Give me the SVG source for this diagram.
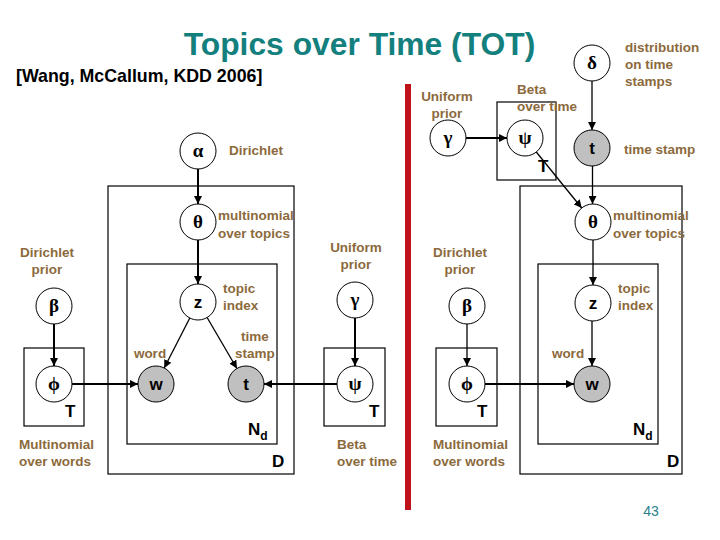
<svg xmlns="http://www.w3.org/2000/svg" width="720" height="540" viewBox="0 0 720 540">
<style>
.lbl{font-family:"Liberation Sans",Arial,sans-serif;font-weight:bold;font-size:13.5px;fill:#8c6a3c}
.lm{text-anchor:middle}
.node{fill:#fff;stroke:#000;stroke-width:1}
.obs{fill:#c0c0c0;stroke:#000;stroke-width:1}
.gr{font-family:"Liberation Serif","DejaVu Serif",serif;font-weight:bold;font-size:19px;text-anchor:middle;fill:#000}
.lt{font-family:"Liberation Sans",Arial,sans-serif;font-weight:bold;font-size:17px;text-anchor:middle;fill:#000}
.plate{fill:none;stroke:#000;stroke-width:1.2}
.pl{font-family:"Liberation Sans",Arial,sans-serif;font-weight:bold;font-size:17px;fill:#000}
.c{stroke:#000;fill:none}
.thick{stroke-width:2}
.thin{stroke-width:1.3}
</style>
<defs>
<marker id="ah" viewBox="0 0 8 8" refX="8" refY="4" markerWidth="8" markerHeight="8" markerUnits="userSpaceOnUse" orient="auto">
<path d="M0,0 L8,4 L0,8 z" fill="#000"/>
</marker>
</defs>
<rect width="720" height="540" fill="#fff"/>
<text x="359.5" y="55" text-anchor="middle" font-family="Liberation Sans,Arial,sans-serif" font-weight="bold" font-size="31.8" fill="#13807e">Topics over Time (TOT)</text>
<text x="16" y="82" font-family="Liberation Sans,Arial,sans-serif" font-weight="bold" font-size="17.8" fill="#000">[Wang, McCallum, KDD 2006]</text>
<text x="651" y="516" text-anchor="middle" font-family="Liberation Sans,Arial,sans-serif" font-size="14" fill="#2a7f8a">43</text>
<rect x="405" y="84" width="6" height="426" fill="#c0101a"/>

<g id="plates">
<rect class="plate" x="108" y="186" width="186" height="288"/>
<rect class="plate" x="127" y="264" width="150" height="180"/>
<rect class="plate" x="24" y="348" width="60" height="78"/>
<rect class="plate" x="324" y="348" width="61" height="78"/>
<rect class="plate" x="497" y="102" width="59" height="78"/>
<rect class="plate" x="520" y="186" width="162" height="288"/>
<rect class="plate" x="538" y="264" width="120" height="180"/>
<rect class="plate" x="436" y="348" width="61" height="78"/>
<text class="pl" x="65" y="417">T</text>
<text class="pl" x="369" y="417">T</text>
<text class="pl" x="538" y="172">T</text>
<text class="pl" x="477" y="417">T</text>
<text class="pl" x="248" y="435">N<tspan font-size="12" dy="5">d</tspan></text>
<text class="pl" x="272" y="467">D</text>
<text class="pl" x="633" y="435">N<tspan font-size="12" dy="5">d</tspan></text>
<text class="pl" x="667" y="467">D</text>
</g>

<g id="connectors">
<line class="c thick" x1="198" y1="169" x2="198" y2="204" marker-end="url(#ah)"/>
<line class="c thick" x1="198" y1="240" x2="198" y2="284" marker-end="url(#ah)"/>
<line class="c thin" x1="189.8" y1="318" x2="164.2" y2="368" marker-end="url(#ah)"/>
<line class="c thin" x1="207.1" y1="317.5" x2="236.9" y2="368.5" marker-end="url(#ah)"/>
<line class="c thick" x1="54" y1="324" x2="54" y2="366" marker-end="url(#ah)"/>
<line class="c thick" x1="72" y1="384" x2="138" y2="384" marker-end="url(#ah)"/>
<line class="c thick" x1="337" y1="384" x2="264" y2="384" marker-end="url(#ah)"/>
<line class="c thick" x1="355" y1="318" x2="355" y2="366" marker-end="url(#ah)"/>
<line class="c thin" x1="592" y1="81" x2="592" y2="130" marker-end="url(#ah)"/>
<line class="c thick" x1="466" y1="138" x2="507" y2="138" marker-end="url(#ah)"/>
<line class="c thin" x1="536.3" y1="152" x2="581.7" y2="208" marker-end="url(#ah)"/>
<line class="c thin" x1="592.5" y1="166" x2="592.5" y2="204" marker-end="url(#ah)"/>
<line class="c thin" x1="593" y1="240" x2="593" y2="285" marker-end="url(#ah)"/>
<line class="c thin" x1="592" y1="321" x2="592" y2="366" marker-end="url(#ah)"/>
<line class="c thin" x1="467" y1="324" x2="467" y2="366" marker-end="url(#ah)"/>
<line class="c thick" x1="485" y1="384" x2="574" y2="384" marker-end="url(#ah)"/>
</g>

<g id="alpha"><circle class="node" cx="198" cy="151" r="18"/><text class="gr" x="198" y="157">α</text></g>
<g id="theta-l"><circle class="node" cx="198" cy="222" r="18"/><text class="gr" x="198" y="228">θ</text></g>
<g id="z-l"><circle class="node" cx="198" cy="302" r="18"/><text class="lt" x="198" y="308">z</text></g>
<g id="beta-l"><circle class="node" cx="54" cy="306" r="18"/><text class="gr" x="54" y="312">β</text></g>
<g id="phi-l"><circle class="node" cx="54" cy="384" r="18"/><text class="gr" x="54" y="390">ϕ</text></g>
<g id="w-l"><circle class="obs" cx="156" cy="384" r="18"/><text class="lt" x="156" y="390">w</text></g>
<g id="t-l"><circle class="obs" cx="246" cy="384" r="18"/><text class="lt" x="246" y="390">t</text></g>
<g id="gamma-m"><circle class="node" cx="355" cy="300" r="18"/><text class="gr" x="355" y="306">γ</text></g>
<g id="psi-m"><circle class="node" cx="355" cy="384" r="18"/><text class="gr" x="355" y="390">ψ</text></g>
<g id="delta"><circle class="node" cx="592" cy="63" r="18"/><text class="gr" x="592" y="69">δ</text></g>
<g id="t-r"><circle class="obs" cx="592" cy="148" r="18"/><text class="lt" x="592" y="154">t</text></g>
<g id="gamma-r"><circle class="node" cx="448" cy="138" r="18"/><text class="gr" x="448" y="144">γ</text></g>
<g id="psi-r"><circle class="node" cx="525" cy="138" r="18"/><text class="gr" x="525" y="144">ψ</text></g>
<g id="theta-r"><circle class="node" cx="593" cy="222" r="18"/><text class="gr" x="593" y="228">θ</text></g>
<g id="z-r"><circle class="node" cx="593" cy="303" r="18"/><text class="lt" x="593" y="309">z</text></g>
<g id="beta-r"><circle class="node" cx="467" cy="306" r="18"/><text class="gr" x="467" y="312">β</text></g>
<g id="phi-r"><circle class="node" cx="467" cy="384" r="18"/><text class="gr" x="467" y="390">ϕ</text></g>
<g id="w-r"><circle class="obs" cx="592" cy="384" r="18"/><text class="lt" x="592" y="390">w</text></g>

<g id="labels">
<text class="lbl" x="229" y="155">Dirichlet</text>
<text class="lbl" x="218" y="220">multinomial</text>
<text class="lbl" x="218" y="238">over topics</text>
<text class="lbl" x="223" y="293">topic</text>
<text class="lbl" x="223" y="310">index</text>
<text class="lbl lm" x="47" y="257">Dirichlet</text>
<text class="lbl lm" x="47" y="274">prior</text>
<text class="lbl lm" x="150" y="358">word</text>
<text class="lbl lm" x="255" y="341">time</text>
<text class="lbl lm" x="255" y="358">stamp</text>
<text class="lbl" x="19" y="449">Multinomial</text>
<text class="lbl" x="19" y="466">over words</text>
<text class="lbl lm" x="356" y="252">Uniform</text>
<text class="lbl lm" x="356" y="269">prior</text>
<text class="lbl" x="337" y="449">Beta</text>
<text class="lbl" x="337" y="466">over time</text>
<text class="lbl" x="625" y="52">distribution</text>
<text class="lbl" x="625" y="69">on time</text>
<text class="lbl" x="625" y="86">stamps</text>
<text class="lbl" x="624" y="154">time stamp</text>
<text class="lbl lm" x="447" y="101">Uniform</text>
<text class="lbl lm" x="447" y="118">prior</text>
<text class="lbl" x="517" y="94">Beta</text>
<text class="lbl" x="517" y="111">over time</text>
<text class="lbl" x="613" y="220">multinomial</text>
<text class="lbl" x="613" y="238">over topics</text>
<text class="lbl" x="618" y="293">topic</text>
<text class="lbl" x="618" y="310">index</text>
<text class="lbl lm" x="460" y="257">Dirichlet</text>
<text class="lbl lm" x="460" y="274">prior</text>
<text class="lbl lm" x="568" y="358">word</text>
<text class="lbl" x="433" y="449">Multinomial</text>
<text class="lbl" x="433" y="466">over words</text>
</g>
</svg>
